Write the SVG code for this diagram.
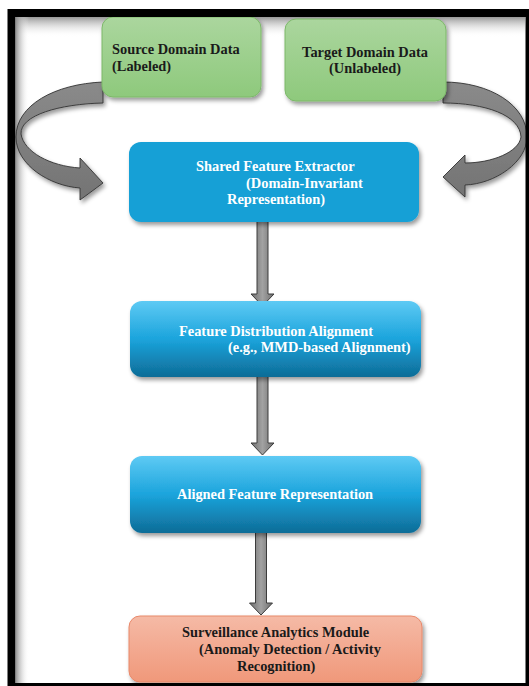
<svg xmlns="http://www.w3.org/2000/svg" width="529" height="686" viewBox="0 0 529 686">
<style>
.t{font-family:"Liberation Serif","Times New Roman",serif;font-weight:bold;font-size:14.4px}
.dk{fill:#1a1a1a}
.wh{fill:#ffffff}
.sh{fill:url(#shaft);stroke:#3c3c3c;stroke-width:1}
.cv{fill:url(#curve);stroke:#333;stroke-width:0.9;stroke-linejoin:round}
</style>
<defs>
<filter id="ds" x="-10%" y="-10%" width="125%" height="135%">
<feDropShadow dx="2" dy="3" stdDeviation="2" flood-color="#000" flood-opacity="0.4"/>
</filter>
<linearGradient id="green" x1="0" y1="0" x2="0" y2="1">
<stop offset="0" stop-color="#abd69e"/><stop offset="1" stop-color="#8ec97c"/>
</linearGradient>
<linearGradient id="blue" x1="0" y1="0" x2="0" y2="1">
<stop offset="0" stop-color="#5ecaf4"/><stop offset="0.5" stop-color="#1ba4dc"/><stop offset="1" stop-color="#0e6c97"/>
</linearGradient>
<linearGradient id="salmon" x1="0" y1="0" x2="0" y2="1">
<stop offset="0" stop-color="#f5baa6"/><stop offset="1" stop-color="#f0987a"/>
</linearGradient>
<linearGradient id="shaft" x1="0" y1="0" x2="1" y2="0">
<stop offset="0" stop-color="#6e6e6e"/><stop offset="0.5" stop-color="#a2a2a2"/><stop offset="1" stop-color="#6e6e6e"/>
</linearGradient>
<linearGradient id="curve" x1="0" y1="0" x2="0" y2="1">
<stop offset="0" stop-color="#8a8a8a"/><stop offset="1" stop-color="#747474"/>
</linearGradient>
<linearGradient id="topfade" x1="0" y1="0" x2="0" y2="1">
<stop offset="0" stop-color="#8c8c8c" stop-opacity="0.9"/><stop offset="1" stop-color="#ffffff" stop-opacity="0"/>
</linearGradient>
<linearGradient id="leftfade" x1="0" y1="0" x2="1" y2="0">
<stop offset="0" stop-color="#8c8c8c" stop-opacity="0.9"/><stop offset="1" stop-color="#ffffff" stop-opacity="0"/>
</linearGradient>
</defs>
<rect x="0" y="0" width="529" height="686" fill="#ffffff"/>
<rect x="16" y="17" width="509" height="20" fill="url(#topfade)"/>
<rect x="16" y="17" width="13" height="666" fill="url(#leftfade)"/>

<g id="connectors">
<path class="cv" filter="url(#ds)" d="M103,82 C55,84 16,105 16,137 C16,165 50,186 80,188 L80,200 L103,183 L80,158 L80,168 C50,166 24,152 21,134 C20,115 60,104 103,103 Z"/>
<path class="cv" filter="url(#ds)" d="M443,82 C490,82 527,105 527,137 C527,162 495,184 465,185 L465,197 L443,177 L465,155 L465,163 C492,163 519,152 521,137 C520,115 485,103 443,103 Z"/>
<path class="sh" d="M257,220 L268,220 L268,294 L274,294 L262.5,306 L251,294 L257,294 Z"/>
<path class="sh" d="M257,375 L268,375 L268,443 L274,443 L262.5,455 L251,443 L257,443 Z"/>
<path class="sh" d="M255.5,531 L266.5,531 L266.5,603 L272.5,603 L261,615 L249.5,603 L255.5,603 Z"/>
</g>

<g id="source">
<rect x="102" y="17" width="159" height="80" rx="11" fill="url(#green)" stroke="#7cb869" stroke-width="1" filter="url(#ds)"/>
<text class="t dk" x="112" y="54">Source Domain Data</text>
<text class="t dk" x="112" y="71">(Labeled)</text>
</g>
<g id="target">
<rect x="285" y="19" width="161" height="82" rx="11" fill="url(#green)" stroke="#7cb869" stroke-width="1" filter="url(#ds)"/>
<text class="t dk" x="365" y="56.5" text-anchor="middle">Target Domain Data</text>
<text class="t dk" x="365" y="73" text-anchor="middle">(Unlabeled)</text>
</g>
<g id="extractor">
<rect x="129" y="142" width="290" height="80" rx="12" fill="#15a0d6" filter="url(#ds)"/>
<text class="t wh" x="196" y="171">Shared Feature Extractor</text>
<text class="t wh" x="246" y="188">(Domain-Invariant</text>
<text class="t wh" x="227" y="204">Representation)</text>
</g>
<g id="alignment">
<rect x="130" y="301" width="291" height="76" rx="12" fill="url(#blue)" filter="url(#ds)"/>
<text class="t wh" x="179" y="336">Feature Distribution Alignment</text>
<text class="t wh" x="228" y="352">(e.g., MMD-based Alignment)</text>
</g>
<g id="aligned">
<rect x="130" y="456" width="291" height="77" rx="12" fill="url(#blue)" filter="url(#ds)"/>
<text class="t wh" x="177" y="499">Aligned Feature Representation</text>
</g>
<g id="analytics">
<rect x="129" y="616" width="293" height="66" rx="11" fill="url(#salmon)" stroke="#e8896b" stroke-width="1" filter="url(#ds)"/>
<text class="t dk" x="182" y="637">Surveillance Analytics Module</text>
<text class="t dk" x="199" y="654">(Anomaly Detection / Activity</text>
<text class="t dk" x="237" y="671">Recognition)</text>
</g>

<rect x="11.5" y="13" width="518" height="674" fill="none" stroke="#000" stroke-width="8"/>
</svg>
